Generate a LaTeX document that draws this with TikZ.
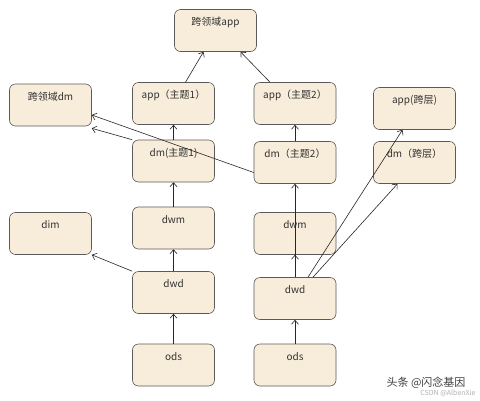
\documentclass[tikz,border=0pt]{standalone}
\usepackage{fontspec}
\setmainfont{Noto Sans CJK SC}
\usetikzlibrary{arrows.meta}
\definecolor{boxfill}{HTML}{F8EDDA}
\definecolor{boxline}{HTML}{5A5A5A}
\tikzset{
  box/.style={draw=boxline, fill=boxfill, line width=0.6pt, rounded corners=6pt,
    minimum width=82pt, minimum height=42pt, inner xsep=2pt, inner ysep=4pt,
    text height=12pt, text depth=22pt, font=\fontsize{10}{12}\selectfont, text=black!80},
  arr/.style={-{Straight Barb[length=4pt,width=7pt]}, line width=0.6pt, black!85},
}
\begin{document}
\begin{tikzpicture}[x=1pt,y=-1pt]
\useasboundingbox (0,0) rectangle (480,400);
\fill[white] (0,0) rectangle (480,400);
\node[box] (kapp) at (215.5,30.5) {跨领域app};
\node[box] (app1) at (173.5,103.5) {app（主题1）};
\node[box] (app2) at (295,103.5) {app（主题2）};
\node[box] (kdm) at (50.5,105) {跨领域dm};
\node[box] (appk) at (414.5,108.5) {app(跨层)};
\node[box] (dm1) at (173.5,161) {dm(主题1)};
\node[box] (dm2) at (295,162.5) {dm（主题2）};
\node[box] (dmk) at (414.5,162.5) {dm（跨层）};
\node[box] (dim) at (50.5,233.5) {dim};
\node[box] (dwm1) at (173.5,228) {dwm};
\node[box] (dwm2) at (295,233.5) {dwm};
\node[box] (dwd1) at (173.5,292.5) {dwd};
\node[box] (dwd2) at (295,298.5) {dwd};
\node[box] (ods1) at (173.5,365) {ods};
\node[box] (ods2) at (295,365) {ods};
% connectors
\draw[arr] ([xshift=12pt]app1.north) -- ([xshift=-12pt]kapp.south);
\draw[arr] ([xshift=-25pt]app2.north) -- ([xshift=25pt]kapp.south);
\draw[arr] (dm1) -- (app1);
\draw[arr] (dm2) -- (app2);
\draw[arr] (dm1.north west) -- ([yshift=-2pt]kdm.south east);
\draw[arr] ([yshift=-10pt]dm2.west) -- ([yshift=-10pt]kdm.east);
\draw[arr] (dwm1) -- (dm1);
\draw[arr] (dwd2) -- (dm2);
\draw[arr] (dwd2) -- (dwm2);
\draw[arr] ([xshift=13pt]dwd2.north) -- ([xshift=-12pt]appk.south);
\draw[arr] ([xshift=18pt]dwd2.north) -- ([xshift=-17pt]dmk.south);
\draw[arr] (dwd1.north west) -- (dim.south east);
\draw[arr] (dwd1) -- (dwm1);
\draw[arr] (ods1) -- (dwd1);
\draw[arr] (ods2) -- (dwd2);
% watermarks
\node[anchor=east, font=\fontsize{11}{13}\selectfont, text=black!75] (wm1) at (469,383) {头条 @闪念基因};
\node[anchor=east, font=\fontsize{7}{8}\selectfont, text=black!30] (wm2) at (479,393) {CSDN @AlbenXie};
\end{tikzpicture}
\end{document}
